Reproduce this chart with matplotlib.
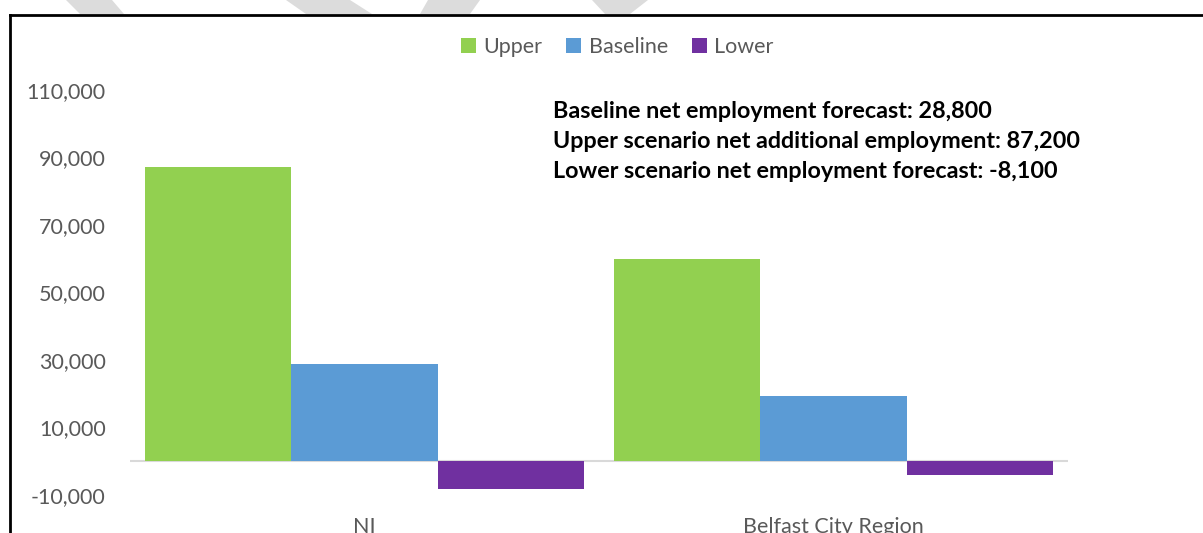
import matplotlib.pyplot as plt
import numpy as np
from matplotlib.lines import Line2D
from matplotlib.patches import Polygon
from matplotlib.ticker import FuncFormatter

# net employment by region and scenario
regions = ["NI", "Belfast City Region"]
scenarios = ["Upper", "Baseline", "Lower"]
upper = [87200, 60000]
baseline = [28800, 19300]
lower = [-8100, -4200]

notes = [
    "Baseline net employment forecast: 28,800",
    "Upper scenario net additional employment: 87,200",
    "Lower scenario net employment forecast: -8,100",
]

colors = ["#92D050", "#5B9BD5", "#7030A0"]
FONT = "Lato"
W, H = 1203, 533

fig = plt.figure(figsize=(W / 100, H / 100), dpi=100)
ax = fig.add_axes([130 / W, 1 - 495 / H, 938 / W, 405 / H])

x = np.arange(len(regions))
width = 0.936 / 3
for i, (name, vals) in enumerate(zip(scenarios, [upper, baseline, lower])):
    ax.bar(x + (i - 1) * width, vals, width, color=colors[i], label=name, zorder=2)

ax.axhline(0, color="#D9D9D9", lw=1.5, zorder=1)
ax.set_xlim(-0.5, 1.5)
ax.set_ylim(-10000, 110000)
ax.set_yticks(np.arange(-10000, 110001, 20000))
ax.yaxis.set_major_formatter(FuncFormatter(lambda v, p: f"{int(v):,}"))
ax.set_xticks(x)
ax.set_xticklabels(regions)
ax.tick_params(length=0, colors="#595959", labelsize=15.5)
ax.tick_params(axis="y", pad=17.5)
ax.tick_params(axis="x", pad=16)
for lab in ax.get_xticklabels() + ax.get_yticklabels():
    lab.set_fontfamily(FONT)
for s in ax.spines.values():
    s.set_visible(False)

leg = fig.legend(loc="center", bbox_to_anchor=(0.513, 1 - 47 / H), ncol=3,
                 frameon=False, prop={"family": FONT, "size": 15.5},
                 handlelength=0.7, handleheight=0.7, handletextpad=0.35,
                 columnspacing=1.1)
for t in leg.get_texts():
    t.set_color("#595959")

for k, line in enumerate(notes):
    fig.text(553 / W, 1 - (111 + 30.5 * k) / H, line, ha="left", va="center",
             fontsize=16.8, fontweight="bold", family=FONT, color="black")

# outer frame
fig.add_artist(Line2D([10 / W, 10 / W], [0, 1 - 15 / H], color="black", lw=2))
fig.add_artist(Line2D([10 / W, 1], [1 - 15 / H, 1 - 15 / H], color="black", lw=2))

# faint stripes along the top edge
stripes = [
    [(66, 0), (112, 0), (124, 14), (80, 14)],
    [(286, 0), (350, 0), (372, 14), (306, 14)],
    [(428, 0), (480, 0), (470, 14), (420, 14)],
    [(592, 0), (648, 0), (630, 14), (605, 14)],
]
for pts in stripes:
    fig.patches.append(Polygon([(px / W, 1 - py / H) for px, py in pts],
                               closed=True, transform=fig.transFigure,
                               facecolor="#DCDCDC", edgecolor="none"))

fig.savefig("out.png", dpi=100)
